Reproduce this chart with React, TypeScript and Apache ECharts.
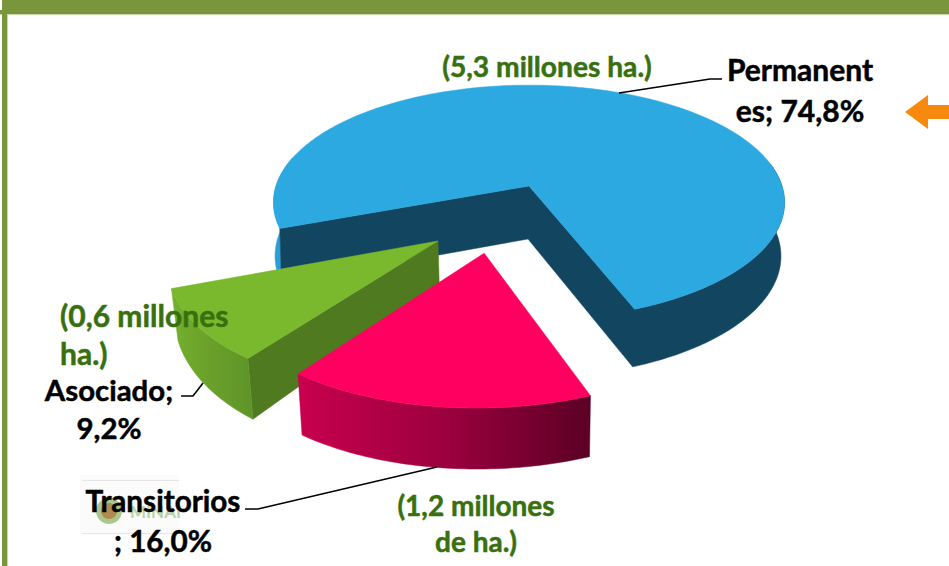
import React, { useEffect, useRef } from "react";
import * as echarts from "echarts";

// Data
const categories = ["Transitorios", "Asociado", "Permanentes"];
const shares = [16.0, 9.2, 74.8];
const hectares = ["1,2", "0,6", "5,3"];

// Projection of the tilted pie
const CX = 529, CY = 186, R = 253, TILT = 0.4545, PERSP = 0.14;
const START = 68;
const project = (x: number, y: number) => {
  const s = 1 / (1 - PERSP * y);
  return [CX + R * x * s, CY + R * TILT * y * s];
};

type Look = {
  ex: number; ey: number; off: number; r: number;
  d0: number; d1: number; x0: number; k: number; shift: number;
};
const looks: Look[] = [
  { ex: -0.164, ey: 0.54, off: 0.6, r: 0.98, d0: 61, d1: 0, x0: 533, k: 0.983, shift: 0 },
  { ex: -0.337, ey: 0.448, off: 0.7, r: 0.982, d0: 36.6, d1: 19.5, x0: 500, k: 0.98, shift: 0 },
  { ex: 0, ey: 0, off: 0.7, r: 1, d0: 53, d1: 5, x0: 529, k: 0.99, shift: -1 },
];

const BLACK = "#000000";
const GREEN_TEXT = "#38700F";
const FONT = "Lato, 'Open Sans', sans-serif";

function buildSlice(idx: number, startDeg: number, endDeg: number) {
  const l = looks[idx];
  const rad = (d: number) => (d * Math.PI) / 180;
  const planeAt = (deg: number, r: number) => [l.ex + r * l.r * Math.cos(rad(deg)), l.ey + r * l.r * Math.sin(rad(deg))];
  const top = (deg: number, r = 1) => {
    const [x, y] = planeAt(deg, r);
    return project(x, y);
  };
  const bottom = (deg: number, r = 1) => {
    const [x, y] = planeAt(deg, r);
    const [sx, sy] = project(x, y);
    return [l.x0 + (sx - l.x0) * l.k + l.shift, sy + l.d0 + l.d1 * y];
  };
  const arc = (f: (d: number, r?: number) => number[], a: number, b: number) => {
    const pts: number[][] = [];
    const n = Math.max(2, Math.ceil(Math.abs(b - a)));
    for (let i = 0; i <= n; i++) pts.push(f(a + ((b - a) * i) / n));
    return pts;
  };
  const wall = (a: number, b: number) => [...arc(top, a, b), ...arc(bottom, b, a)];
  const cut = (deg: number) => [top(0, 0), top(deg), bottom(deg), bottom(0, 0)];
  const face = [top(0, 0), ...arc(top, startDeg, endDeg)];
  const poly = (points: number[][], fill: any) => ({
    type: "polygon",
    shape: { points },
    style: { fill, stroke: fill, lineWidth: 0.5 },
  });
  const grad = (x1: number, x2: number, c1: string, c2: string, c3: string) =>
    new echarts.graphic.LinearGradient(x1, 0, x2, 0, [
      { offset: 0, color: c1 },
      { offset: 0.5, color: c2 },
      { offset: 1, color: c3 },
    ], true);
  const children: any[] = [];
  if (idx === 2) {
    const dark = "#124660";
    children.push(poly(wall(startDeg, startDeg + 35), "#2A9FD6"));
    children.push(poly([
      top(startDeg),
      top(0, 0),
      ...arc(top, endDeg, endDeg - 80),
      ...arc(bottom, endDeg - 80, endDeg),
      bottom(0, 0),
      bottom(startDeg),
    ], dark));
    children.push(poly(face, "#2CA9E1"));
  } else if (idx === 1) {
    children.push(poly(cut(startDeg), "#4F7A20"));
    children.push(poly(wall(startDeg, endDeg), grad(172, 255, "#74B02E", "#699F2A", "#5E9428")));
    children.push(poly(face, "#7AB82E"));
  } else {
    children.push(poly(wall(startDeg, endDeg), grad(297, 592, "#C9004F", "#9C003F", "#5B0024")));
    children.push(poly(face, "#FF0060"));
  }
  return { type: "group", children };
}

const line = (points: number[][]) => ({
  type: "polyline",
  z: 20,
  shape: { points },
  style: { stroke: BLACK, lineWidth: 1.6, fill: "none" },
});
const label = (text: string, x: number, y: number, size: number, color: string, align = "center") => ({
  type: "text",
  z: 30,
  x,
  y,
  style: {
    text,
    fill: color,
    stroke: color,
    lineWidth: 0.5,
    font: `bold ${size}px ${FONT}`,
    textAlign: align,
    textVerticalAlign: "middle",
  },
});

export default function App() {
  const ref = useRef<HTMLDivElement>(null);
  useEffect(() => {
    if (!ref.current) return;
    const chart = echarts.init(ref.current, undefined, { renderer: "svg" });
    let acc = START;
    const ranges = shares.map((v, i) => {
      const a = acc + looks[i].off;
      const b = a + (v / 100) * 360;
      acc += (v / 100) * 360;
      return [a, b];
    });
    chart.setOption({
      animation: false,
      backgroundColor: "#ffffff",
      series: [
        {
          type: "custom",
          coordinateSystem: "none",
          z: 2,
          data: [2, 1, 0].map((i) => ({ value: [i, shares[i]], name: categories[i] })),
          renderItem: (_p: any, api: any) => {
            const i = api.value(0);
            return buildSlice(i, ranges[i][0], ranges[i][1]);
          },
        },
      ],
      graphic: [
        { type: "rect", z: 10, shape: { x: 0, y: 0, width: 949, height: 14 }, style: { fill: "#7A963C" } },
        { type: "rect", z: 10, shape: { x: 0, y: 14, width: 949, height: 1 }, style: { fill: "#CBD8AE" } },
        { type: "rect", z: 10, shape: { x: 0, y: 0, width: 2, height: 10 }, style: { fill: "#ffffff" } },
        { type: "rect", z: 10, shape: { x: 2, y: 10, width: 5, height: 556 }, style: { fill: "#7A963C" } },
        { type: "rect", z: 10, shape: { x: 7, y: 15, width: 1, height: 551 }, style: { fill: "#CBD8AE" } },
        { type: "polygon", z: 10, shape: { points: [[905, 112], [928, 95], [928, 105], [949, 105], [949, 119], [928, 119], [928, 129]] }, style: { fill: "#F7890F" } },
        { type: "rect", z: 11, shape: { x: 80, y: 475, width: 99, height: 60 }, style: { fill: "#FBFBFB" } },
        { type: "rect", z: 11, shape: { x: 82, y: 480, width: 97, height: 1 }, style: { fill: "#E6E6E6" } },
        { type: "rect", z: 11, shape: { x: 82, y: 533, width: 97, height: 1 }, style: { fill: "#E6E6E6" } },
        { type: "circle", z: 12, shape: { cx: 109, cy: 511, r: 13 }, style: { fill: "#A9C88A" } },
        { type: "circle", z: 12, shape: { cx: 109, cy: 511, r: 8 }, style: { fill: "#B08A50" } },
        { type: "text", z: 12, x: 130, y: 511, style: { text: "MINAI", fill: "#B9D3A6", font: `bold 17px ${FONT}`, textVerticalAlign: "middle" } },
        line([[619, 93], [710, 79], [722, 79]]),
        line([[203, 383], [193, 396], [181, 396]]),
        line([[437, 467], [258, 509], [245, 509]]),
        label(`(${hectares[2]} millones ha.)`, 547, 66, 28.2, GREEN_TEXT),
        label(`(${hectares[1]} millones`, 60, 315, 30, GREEN_TEXT, "left"),
        label("ha.)", 60, 353, 30, GREEN_TEXT, "left"),
        label(`(${hectares[0]} millones`, 476, 505, 28, GREEN_TEXT),
        label("de ha.)", 476, 541, 28, GREEN_TEXT),
        label("Permanent", 800, 69, 30, BLACK),
        label(`es; ${String(shares[2]).replace(".", ",")}%`, 800, 110, 30, BLACK),
        label(`${categories[1]};`, 109, 389, 29.4, BLACK),
        label(`${String(shares[1]).replace(".", ",")}%`, 109, 427, 29.4, BLACK),
        label(categories[0], 163, 500, 29.7, BLACK),
        label(`; ${shares[0].toFixed(1).replace(".", ",")}%`, 163, 540, 29.7, BLACK),
      ],
    });
    return () => chart.dispose();
  }, []);
  return <div ref={ref} style={{ position: "fixed", left: 0, top: 0, width: 949, height: 566 }} />;
}
